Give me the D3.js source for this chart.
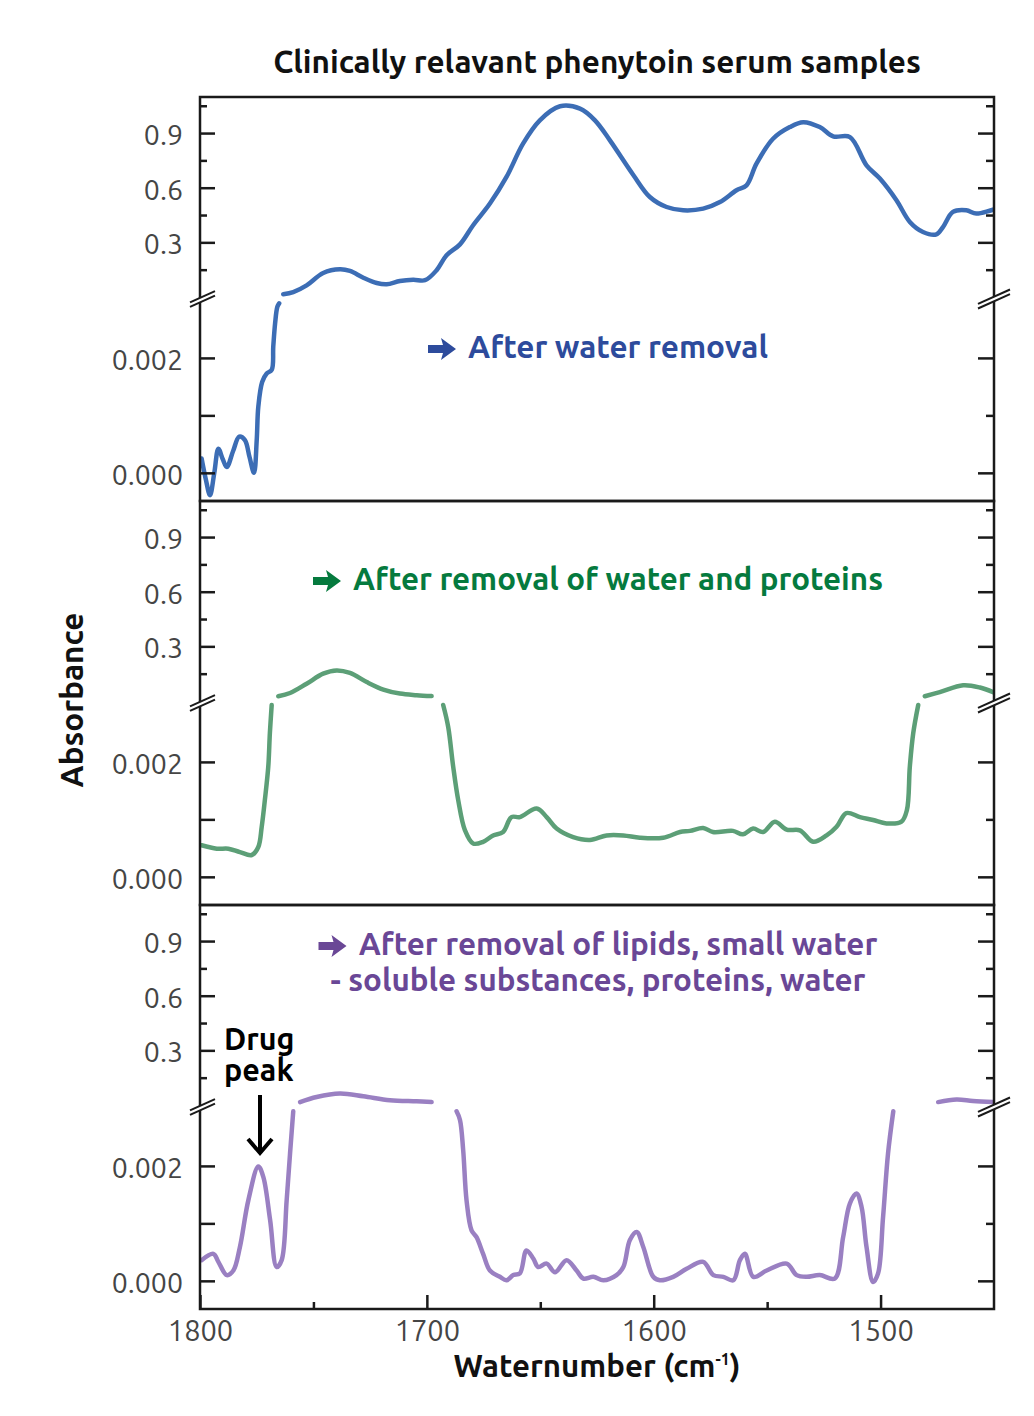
<!DOCTYPE html>
<html>
<head>
<meta charset="utf-8">
<script src="https://cdn.jsdelivr.net/npm/d3@7"></script>
<style>
body { margin: 0; background: #fff; }
svg { display: block; }
</style>
</head>
<body>
<div class="chart"></div>
<script>
// tick values
const xTicks = [1800, 1700, 1600, 1500];
const xMinorTicks = [1750, 1650, 1550];
const highTicks = [0.3, 0.6, 0.9];
const highMinorTicks = [0.15, 0.45, 0.75, 1.05];
const lowTicks = [0.0, 0.002];
const lowMinorTicks = [0.001];

// [wavenumber, absorbance] -- after water removal
const blueLow = [[1799.3, 0.00025], [1797.4, -0.00012], [1795.6, -0.00039], [1793.7, 0.0], [1791.9, 0.00042], [1790.0, 0.00024], [1788.2, 0.0001], [1785.4, 0.00038], [1782.7, 0.00063], [1780.2, 0.00057], [1778.2, 0.00028], [1776.2, 0.0], [1775.0, 0.00057], [1774.3, 0.00115], [1772.6, 0.00158], [1770.6, 0.00173], [1768.4, 0.00179], [1767.7, 0.0022], [1766.9, 0.0026], [1765.9, 0.00289], [1765.1, 0.00295]];
const blueHigh = [[1763.3, 0.015], [1758.9, 0.027], [1753.0, 0.064], [1745.7, 0.132], [1738.3, 0.152], [1733.9, 0.143], [1728.0, 0.106], [1722.1, 0.077], [1717.7, 0.070], [1711.9, 0.088], [1706.0, 0.095], [1700.8, 0.092], [1695.7, 0.147], [1691.3, 0.229], [1685.4, 0.289], [1679.6, 0.394], [1672.2, 0.513], [1664.9, 0.659], [1657.6, 0.842], [1650.2, 0.970], [1641.3, 1.047], [1632.5, 1.034], [1625.9, 0.970], [1619.3, 0.860], [1609.0, 0.670], [1601.7, 0.549], [1594.3, 0.494], [1587.0, 0.476], [1578.2, 0.485], [1570.8, 0.521], [1563.5, 0.586], [1559.1, 0.613], [1554.7, 0.732], [1547.4, 0.869], [1540.0, 0.933], [1534.1, 0.960], [1526.8, 0.933], [1520.9, 0.882], [1513.5, 0.878], [1506.2, 0.723], [1500.3, 0.650], [1493.0, 0.531], [1487.1, 0.412], [1481.3, 0.357], [1475.4, 0.344], [1472.5, 0.384], [1468.1, 0.467], [1462.2, 0.476], [1457.8, 0.458], [1450.4, 0.480]];

// after removal of water and proteins
const greenLow1 = [[1799.3, 0.00055], [1792.6, 0.00049], [1787.5, 0.00049], [1782.4, 0.00043], [1777.2, 0.00038], [1774.3, 0.00052], [1772.8, 0.00087], [1771.4, 0.00134], [1769.9, 0.00192], [1769.2, 0.0025], [1768.4, 0.00299]];
const greenHigh1 = [[1765.5, 0.026], [1760.3, 0.044], [1753.0, 0.095], [1745.7, 0.150], [1739.8, 0.168], [1733.9, 0.154], [1726.5, 0.104], [1719.2, 0.063], [1711.9, 0.041], [1704.5, 0.032], [1697.9, 0.027]];
const greenLow2 = [[1692.8, 0.00299], [1690.6, 0.00261], [1688.4, 0.00192], [1686.2, 0.00134], [1683.2, 0.00081], [1679.6, 0.00058], [1675.2, 0.00061], [1670.8, 0.00072], [1666.4, 0.00078], [1662.7, 0.00104], [1659.0, 0.00104], [1651.6, 0.00119], [1647.2, 0.00104], [1642.8, 0.00084], [1635.5, 0.00069], [1628.1, 0.00064], [1620.8, 0.00072], [1613.4, 0.00072], [1606.1, 0.00068], [1595.8, 0.00068], [1588.4, 0.00078], [1584.0, 0.0008], [1578.2, 0.00085], [1573.9, 0.00078], [1565.1, 0.0008], [1560.7, 0.00074], [1556.2, 0.00084], [1551.8, 0.00078], [1546.6, 0.00096], [1541.4, 0.00082], [1535.6, 0.00081], [1529.7, 0.00061], [1523.8, 0.00072], [1519.4, 0.00087], [1515.1, 0.00111], [1509.1, 0.00104], [1503.3, 0.00099], [1497.4, 0.00093], [1490.8, 0.00096], [1488.4, 0.00116], [1487.1, 0.00192], [1485.6, 0.0025], [1483.4, 0.00299]];
const greenHigh2 = [[1480.5, 0.026], [1473.9, 0.049], [1463.6, 0.086], [1456.2, 0.074], [1450.4, 0.049]];

// after removal of lipids, small water-soluble substances, proteins, water
const purpleLow1 = [[1799.3, 0.00036], [1794.1, 0.00047], [1791.9, 0.00033], [1788.2, 0.0001], [1785.3, 0.00018], [1782.4, 0.00059], [1778.7, 0.0014], [1774.3, 0.00199], [1772.1, 0.00181], [1769.1, 0.00106], [1766.2, 0.00024], [1764.0, 0.00036], [1761.8, 0.0014], [1760.3, 0.00222], [1758.9, 0.00295]];
const purpleHigh1 = [[1755.9, 0.016], [1748.6, 0.044], [1738.3, 0.063], [1728.0, 0.048], [1716.3, 0.026], [1704.5, 0.020], [1697.9, 0.016]];
const purpleLow2 = [[1686.9, 0.00295], [1685.4, 0.0028], [1684.0, 0.00228], [1682.5, 0.0014], [1680.3, 0.00088], [1678.1, 0.00076], [1675.2, 0.00047], [1672.2, 0.00018], [1667.8, 0.00007], [1664.9, 0.00001], [1661.9, 0.0001], [1659.0, 0.00013], [1656.1, 0.00053], [1653.1, 0.00039], [1650.9, 0.00024], [1647.2, 0.0003], [1643.5, 0.00015], [1638.4, 0.00036], [1634.0, 0.00018], [1631.0, 0.00004], [1626.6, 0.00007], [1622.2, 0.00001], [1616.4, 0.0001], [1613.4, 0.00024], [1610.5, 0.00071], [1607.5, 0.00085], [1604.6, 0.00059], [1600.2, 0.00007], [1597.3, 0.00001], [1591.4, 0.00007], [1585.5, 0.00021], [1578.2, 0.00033], [1573.7, 0.0001], [1569.3, 0.00007], [1564.9, 0.00001], [1562.0, 0.00036], [1559.8, 0.00047], [1556.1, 0.00007], [1550.2, 0.00018], [1541.4, 0.0003], [1537.0, 0.0001], [1532.6, 0.00007], [1526.8, 0.0001], [1520.2, 0.00004], [1516.5, 0.00076], [1513.5, 0.00135], [1510.6, 0.00152], [1508.4, 0.00129], [1506.2, 0.00059], [1503.3, -0.00002], [1501.1, 0.00013], [1498.9, 0.00111], [1496.7, 0.00222], [1494.4, 0.00295]];
const purpleHigh2 = [[1474.6, 0.016], [1466.5, 0.030], [1459.3, 0.022], [1450.4, 0.016]];

const titleText = "Clinically relavant phenytoin serum samples";
const blueLabel = ["After water removal"];
const greenLabel = ["After removal of water and proteins"];
const purpleLabel = ["After removal of lipids, small water", "- soluble substances, proteins, water"];

var w = 1034,
	h = 1416,
	left = 200,
	right = 994,
	plotTop = 97,
	panelH = 404,
	breakH = 200,
	font = "Ubuntu, 'Open Sans', 'DejaVu Sans', sans-serif";

const panels = [
	{ low: [blueLow], high: [blueHigh], line: "#3c6db5", text: "#2d4b9c", label: blueLabel, labelY: [358], labelW: [340] },
	{ low: [greenLow1, greenLow2], high: [greenHigh1, greenHigh2], line: "#5c9f77", text: "#057a3e", label: greenLabel, labelY: [590], labelW: [570] },
	{ low: [purpleLow1, purpleLow2], high: [purpleHigh1, purpleHigh2], line: "#9a80c2", text: "#6a4796", label: purpleLabel, labelY: [955, 991], labelW: [559, 535] }
];

const svg = d3.select(".chart").append("svg").attr("width", w).attr("height", h);
const x = d3.scaleLinear().domain([1800, 1450]).range([left, right]);

function fit(sel, width) {
	const len = sel.node().getComputedTextLength();
	const fs = parseFloat(sel.attr("font-size"));
	sel.attr("font-size", (fs * width) / len);
}

function tickAxis(g, axis, size, dy) {
	g.call(axis);
	g.select(".domain").remove();
	g.selectAll(".tick line").attr("stroke", "#1a1a1a").attr("stroke-width", 2.5);
	g.selectAll(".tick text").attr("fill", "#454545").attr("font-size", size || 28.5)
		.attr("font-family", font).attr("dy", dy || "0.4em");
}

panels.forEach((p, i) => {
	const t = plotTop + i * panelH;
	const yHigh = d3.scaleLinear().domain([0, 1.098]).range([t + breakH, t]);
	const yLow = d3.scaleLinear().domain([-0.00049, 0.00306]).range([t + panelH, t + breakH]);

	svg.append("clipPath").attr("id", "clip" + i)
		.append("rect").attr("x", left).attr("y", t).attr("width", right - left).attr("height", panelH);

	const g = svg.append("g").attr("clip-path", "url(#clip" + i + ")");
	const lowLine = d3.line().x((d) => x(d[0])).y((d) => yLow(d[1])).curve(d3.curveCatmullRom);
	const highLine = d3.line().x((d) => x(d[0])).y((d) => yHigh(d[1])).curve(d3.curveCatmullRom);

	g.selectAll(".low").data(p.low).enter().append("path")
		.attr("d", lowLine).attr("fill", "none").attr("stroke", p.line)
		.attr("stroke-width", 4.5).attr("stroke-linejoin", "round").attr("stroke-linecap", "round");
	g.selectAll(".high").data(p.high).enter().append("path")
		.attr("d", highLine).attr("fill", "none").attr("stroke", p.line)
		.attr("stroke-width", 4.5).attr("stroke-linejoin", "round").attr("stroke-linecap", "round");

	// left ticks
	tickAxis(svg.append("g").attr("transform", "translate(" + left + ",0)"),
		d3.axisLeft(yHigh).tickValues(highTicks).tickSize(-15).tickPadding(17).tickFormat(d3.format(".1f")));
	tickAxis(svg.append("g").attr("transform", "translate(" + left + ",0)"),
		d3.axisLeft(yHigh).tickValues(highMinorTicks).tickSize(-7).tickFormat(""));
	tickAxis(svg.append("g").attr("transform", "translate(" + left + ",0)"),
		d3.axisLeft(yLow).tickValues(lowTicks).tickSize(-15).tickPadding(17).tickFormat(d3.format(".3f")));
	tickAxis(svg.append("g").attr("transform", "translate(" + left + ",0)"),
		d3.axisLeft(yLow).tickValues(lowMinorTicks).tickSize(-15).tickFormat(""));
	// right ticks
	tickAxis(svg.append("g").attr("transform", "translate(" + right + ",0)"),
		d3.axisRight(yHigh).tickValues(highTicks).tickSize(-16).tickFormat(""));
	tickAxis(svg.append("g").attr("transform", "translate(" + right + ",0)"),
		d3.axisRight(yHigh).tickValues(highMinorTicks).tickSize(-8).tickFormat(""));
	tickAxis(svg.append("g").attr("transform", "translate(" + right + ",0)"),
		d3.axisRight(yLow).tickValues(lowTicks).tickSize(-16).tickFormat(""));
	tickAxis(svg.append("g").attr("transform", "translate(" + right + ",0)"),
		d3.axisRight(yLow).tickValues(lowMinorTicks).tickSize(-8).tickFormat(""));

	// frame
	svg.append("rect").attr("x", left).attr("y", t).attr("width", right - left).attr("height", panelH)
		.attr("fill", "none").attr("stroke", "#1a1a1a").attr("stroke-width", 2.5);

	// axis break marks
	const yb = yHigh(0) + 2;
	[[left - 10, left + 15], [right - 16, right + 16]].forEach(([x0, x1]) => {
		const s = 0.45;
		const cx = (x0 + x1) / 2;
		const gb = svg.append("g");
		gb.append("path")
			.attr("d", `M${x0},${yb + (cx - x0) * s}L${x1},${yb - (x1 - cx) * s}`)
			.attr("stroke", "#fff").attr("stroke-width", 4);
		[-2.3, 2.3].forEach((o) => {
			gb.append("path")
				.attr("d", `M${x0},${yb + o + (cx - x0) * s}L${x1},${yb + o - (x1 - cx) * s}`)
				.attr("stroke", "#1a1a1a").attr("stroke-width", 2);
		});
	});

	// panel label; first line gets a heavy arrow in front
	p.label.forEach((txt, j) => {
		const x0 = 598 - p.labelW[j] / 2;
		const arrowW = j === 0 ? 40 : 0;
		const tw = p.labelW[j] - arrowW;
		const tl = svg.append("text").attr("x", x0 + arrowW + tw / 2).attr("y", p.labelY[j])
			.attr("text-anchor", "middle").attr("font-family", font).attr("font-weight", "bold")
			.attr("font-size", 27).attr("fill", p.text).text(txt);
		fit(tl, tw);
		if (j === 0) {
			const cy = p.labelY[j] - 9;
			svg.append("path")
				.attr("d", `M${x0},${cy - 4}L${x0 + 15},${cy - 4}L${x0 + 13},${cy - 11}L${x0 + 28},${cy}L${x0 + 13},${cy + 11}L${x0 + 15},${cy + 4}L${x0},${cy + 4}Z`)
				.attr("fill", p.text);
		}
	});
});

// bottom axis
const bottomY = plotTop + 3 * panelH;
tickAxis(svg.append("g").attr("transform", "translate(0," + bottomY + ")"),
	d3.axisBottom(x).tickValues(xTicks).tickSize(-14).tickPadding(11).tickFormat(d3.format("d")), 29, "0.71em");
tickAxis(svg.append("g").attr("transform", "translate(0," + bottomY + ")"),
	d3.axisBottom(x).tickValues(xMinorTicks).tickSize(-7).tickFormat(""));

// title
const title = svg.append("text").attr("x", 597).attr("y", 73).attr("text-anchor", "middle")
	.attr("font-family", font).attr("font-weight", "bold").attr("font-size", 26).attr("fill", "#111")
	.text(titleText);
fit(title, 648);

// y label
const ylab = svg.append("text").attr("transform", "translate(83,700) rotate(-90)").attr("text-anchor", "middle")
	.attr("font-family", font).attr("font-weight", "bold").attr("font-size", 27).attr("fill", "#111")
	.text("Absorbance");
fit(ylab, 175);

// x label
const xlab = svg.append("text").attr("x", 597).attr("y", 1377).attr("text-anchor", "middle")
	.attr("font-family", font).attr("font-weight", "bold").attr("font-size", 28).attr("fill", "#111");
xlab.append("tspan").text("Waternumber (cm");
xlab.append("tspan").attr("font-size", 16).attr("dy", -12).text("-1");
xlab.append("tspan").attr("dy", 12).text(")");
fit(xlab, 289);

// drug peak annotation
["Drug", "peak"].forEach((txt, j) => {
	svg.append("text").attr("x", 224).attr("y", 1050 + j * 31)
		.attr("font-family", font).attr("font-weight", "bold").attr("font-size", 30.5).attr("fill", "#000")
		.text(txt);
});
svg.append("path").attr("d", "M260,1095L260,1151").attr("stroke", "#000").attr("stroke-width", 4);
svg.append("path").attr("d", "M248,1139L260,1153L272,1139").attr("fill", "none")
	.attr("stroke", "#000").attr("stroke-width", 4);
</script>
</body>
</html>
